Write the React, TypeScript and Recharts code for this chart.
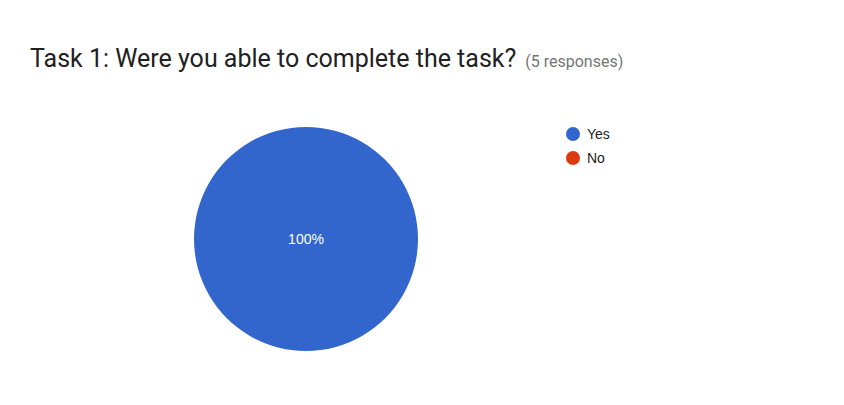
import { PieChart, Pie, Cell } from 'recharts';

const answers = ['Yes', 'No'];
const responses = [5, 0];
const sliceColors = ['#3366cc', '#dc3912'];

const title = 'Task 1: Were you able to complete the task?';
const subtitle = '(5 responses)';

const data = answers.map((name, i) => ({ name, value: responses[i] }));

const sans = "'Liberation Sans', Arial, sans-serif";

function renderLabel({ cx, cy, midAngle, innerRadius, outerRadius, percent }: any) {
  if (!percent) return null;
  let x = cx;
  let y = cy;
  if (percent < 1) {
    const r = innerRadius + (outerRadius - innerRadius) * 0.6;
    const rad = Math.PI / 180;
    x = cx + r * Math.cos(-midAngle * rad);
    y = cy + r * Math.sin(-midAngle * rad);
  }
  return (
    <text x={x} y={y} fill="#ffffff" textAnchor="middle" dominantBaseline="central"
      fontFamily={sans} fontSize={14}>
      {`${Math.round(percent * 100)}%`}
    </text>
  );
}

function LegendList() {
  return (
    <div style={{ position: 'absolute', left: 565, top: 122 }}>
      {answers.map((name, i) => (
        <div key={name} style={{ display: 'flex', alignItems: 'center', height: 24 }}>
          <svg width={16} height={16} style={{ marginRight: 6 }}>
            <circle cx={8} cy={8} r={7} fill={sliceColors[i % sliceColors.length]} />
          </svg>
          <span style={{ fontFamily: sans, fontSize: 14, color: '#222' }}>{name}</span>
        </div>
      ))}
    </div>
  );
}

export default function App() {
  return (
    <div style={{ position: 'absolute', left: 0, top: 0, width: 844, height: 405, background: '#fff' }}>
      <div style={{ position: 'absolute', left: 30, top: 44, whiteSpace: 'nowrap', fontFamily: 'Roboto, sans-serif' }}>
        <span style={{ fontSize: 25, color: '#212121' }}>{title}</span>
        <span style={{ fontSize: 16, color: '#757575', marginLeft: 9 }}>{subtitle}</span>
      </div>
      <div style={{ position: 'absolute', left: 0, top: 0 }}>
        <PieChart width={844} height={405} margin={{ top: 0, right: 0, bottom: 0, left: 0 }}>
          <Pie
            data={data}
            dataKey="value"
            nameKey="name"
            cx={306}
            cy={239}
            outerRadius={112}
            startAngle={90}
            endAngle={-270}
            stroke="none"
            labelLine={false}
            label={renderLabel}
            isAnimationActive={false}
          >
            {data.map((d, i) => (
              <Cell key={d.name} fill={sliceColors[i % sliceColors.length]} />
            ))}
          </Pie>
        </PieChart>
      </div>
      <LegendList />
    </div>
  );
}
